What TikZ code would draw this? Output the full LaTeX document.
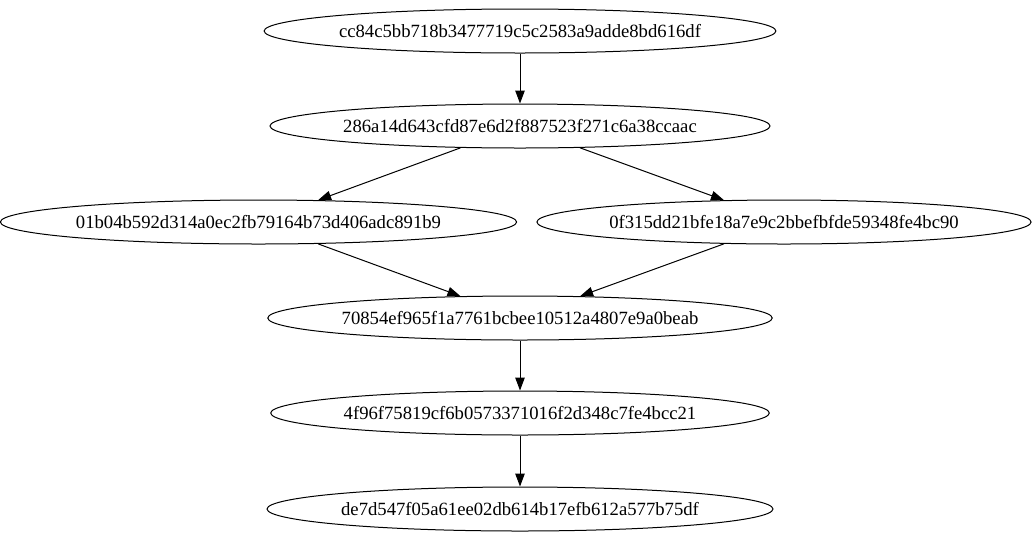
\documentclass[tikz,border=0pt]{standalone}
\usepackage{fontspec}
\setmainfont{Liberation Serif}
\usetikzlibrary{shapes.geometric,arrows.meta}
\begin{document}
\begin{tikzpicture}[x=1pt,y=-1pt,
  hashnode/.style={draw, ellipse, inner sep=0pt, minimum height=44pt, line width=1pt,
    font=\fontsize{18.67}{20}\selectfont},
  edge/.style={draw, line width=1pt, -{Triangle[length=13pt,width=9.5pt]}}]
\useasboundingbox (0,0) rectangle (1035,539);
\node[hashnode, minimum width=508pt] (a) at (520,31) {cc84c5bb718b3477719c5c2583a9adde8bd616df};
\node[hashnode, minimum width=492pt] (b) at (520,126) {286a14d643cfd87e6d2f887523f271c6a38ccaac};
\node[hashnode, minimum width=509pt] (c) at (258.5,222) {01b04b592d314a0ec2fb79164b73d406adc891b9};
\node[hashnode, minimum width=490pt] (d) at (784,222) {0f315dd21bfe18a7e9c2bbefbfde59348fe4bc90};
\node[hashnode, minimum width=493pt] (e) at (520,318) {70854ef965f1a7761bcbee10512a4807e9a0beab};
\node[hashnode, minimum width=491pt] (f) at (520,413) {4f96f75819cf6b0573371016f2d348c7fe4bcc21};
\node[hashnode, minimum width=499pt] (g) at (520,509) {de7d547f05a61ee02db614b17efb612a577b75df};
\draw[edge] (a) -- (b);
\draw[edge] (b) -- (c);
\draw[edge] (b) -- (d);
\draw[edge] (c) -- (e);
\draw[edge] (d) -- (e);
\draw[edge] (e) -- (f);
\draw[edge] (f) -- (g);
\end{tikzpicture}
\end{document}
